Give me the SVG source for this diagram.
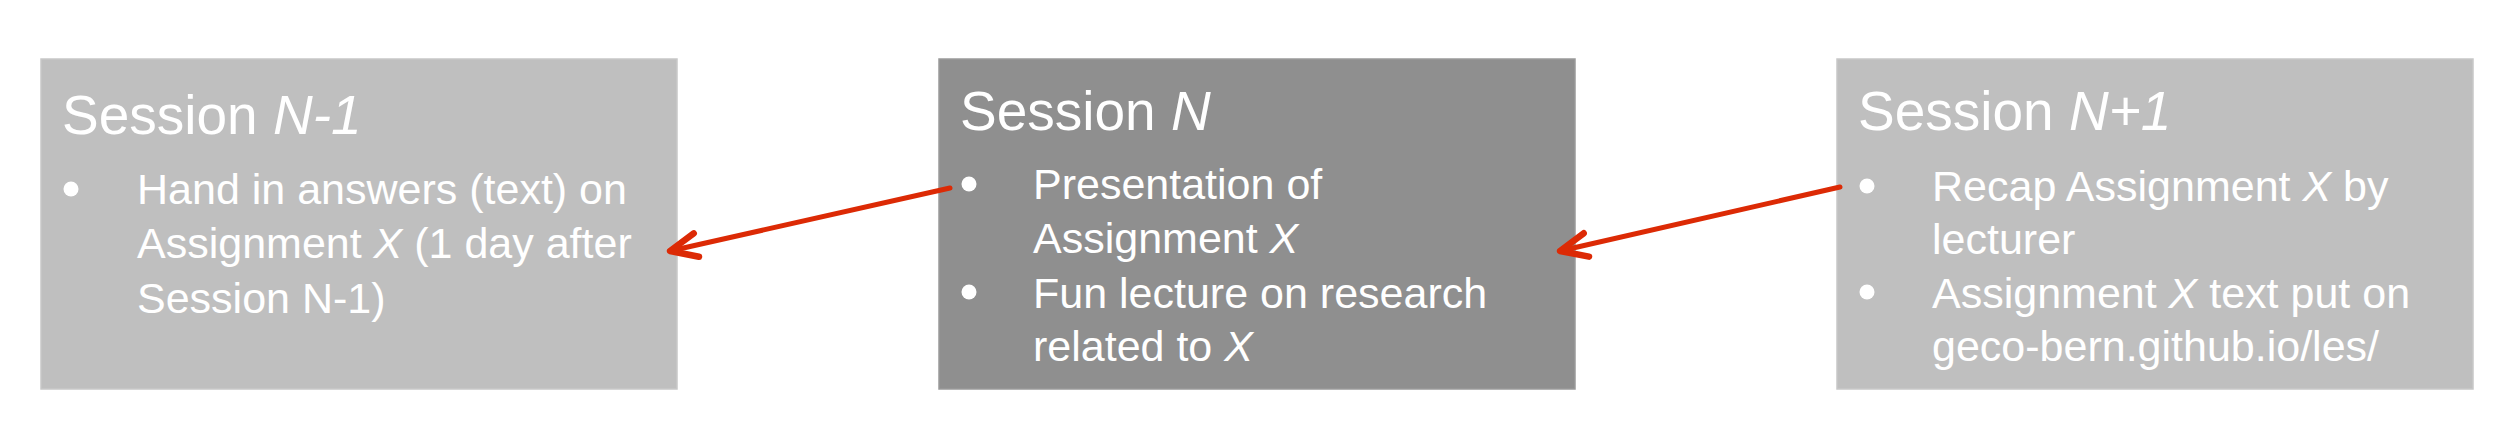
<svg xmlns="http://www.w3.org/2000/svg" width="2512" height="443" viewBox="0 0 2512 443">
<style>
.box-light{fill:#bfbfbf;stroke:#c8c8c8;stroke-width:1.5}
.box-dark{fill:#8f8f8f;stroke:#9a9a9a;stroke-width:1.5}
text{font-family:"Liberation Sans",Arial,Helvetica,sans-serif;fill:#ffffff}
.title{font-size:55px}
.body{font-size:43px}
.it{font-style:italic}
.bullet{fill:#ffffff}
.conn{fill:none;stroke:#dc2a05;stroke-width:5;stroke-linecap:round}
</style>
<defs>
<marker id="ah" markerUnits="userSpaceOnUse" markerWidth="40" markerHeight="40" viewBox="-34 -20 40 40" refX="0" refY="0" orient="auto">
<path d="M-27,-12 L0,0 L-27,12" fill="none" stroke="#dc2a05" stroke-width="6.5" stroke-linecap="round" stroke-linejoin="round"/>
</marker>
</defs>
<rect width="2512" height="443" fill="#ffffff"/>
<g id="session-n-minus-1">
<rect class="box-light" x="41" y="59" width="636" height="330"/>
<text class="title" x="62" y="134">Session <tspan class="it">N-1</tspan></text>
<circle class="bullet" cx="71" cy="189" r="7.5"/>
<text class="body" x="137" y="204">Hand in answers (text) on</text>
<text class="body" x="137" y="258">Assignment <tspan class="it">X</tspan> (1 day after</text>
<text class="body" x="137" y="313">Session N-1)</text>
</g>
<g id="session-n">
<rect class="box-dark" x="939" y="59" width="636" height="330"/>
<text class="title" x="960" y="130">Session <tspan class="it">N</tspan></text>
<circle class="bullet" cx="969" cy="184" r="7.5"/>
<text class="body" x="1033" y="199">Presentation of</text>
<text class="body" x="1033" y="253">Assignment <tspan class="it">X</tspan></text>
<circle class="bullet" cx="969" cy="292" r="7.5"/>
<text class="body" x="1033" y="308">Fun lecture on research</text>
<text class="body" x="1033" y="361">related to <tspan class="it">X</tspan></text>
</g>
<g id="session-n-plus-1">
<rect class="box-light" x="1837" y="59" width="636" height="330"/>
<text class="title" x="1858" y="130">Session <tspan class="it">N+1</tspan></text>
<circle class="bullet" cx="1867" cy="186" r="7.5"/>
<text class="body" x="1932" y="201">Recap Assignment <tspan class="it">X</tspan> by</text>
<text class="body" x="1932" y="254">lecturer</text>
<circle class="bullet" cx="1867" cy="292" r="7.5"/>
<text class="body" x="1932" y="308">Assignment <tspan class="it">X</tspan> text put on</text>
<text class="body" x="1932" y="361">geco-bern.github.io/les/</text>
</g>
<g id="connectors">
<line class="conn" x1="950" y1="188" x2="670" y2="251" marker-end="url(#ah)"/>
<line class="conn" x1="1840" y1="187" x2="1560" y2="251" marker-end="url(#ah)"/>
</g>
</svg>
